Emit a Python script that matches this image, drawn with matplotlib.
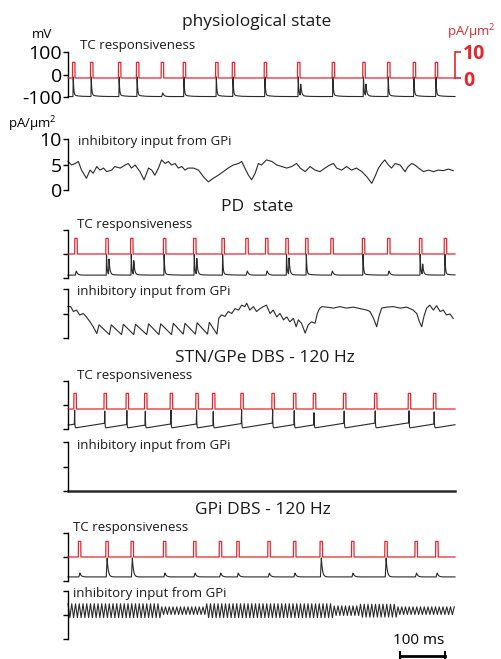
import numpy as np
import matplotlib
matplotlib.use("Agg")
import matplotlib.pyplot as plt
import matplotlib.transforms as mtransforms

plt.rcParams['font.family'] = ['Open Sans', 'DejaVu Sans']
plt.rcParams['mathtext.fontset'] = 'custom'
plt.rcParams['mathtext.rm'] = 'Open Sans'

# ---------------- data ----------------
titles = ["physiological state", "PD  state", "STN/GPe DBS - 120 Hz", "GPi DBS - 120 Hz"]
T_MAX = 860          # ms of trace shown
scale_bar_ms = 100
dbs_freq_hz = 120

# stimulus pulse onsets (ms) and TC responses (fraction of a full spike)
phys_pulse_t = [10, 50, 112, 152, 207, 256, 328, 365, 436, 510, 587, 655, 710, 767, 816]
phys_resp    = [1, 1, 1, 1, 0.19, 1, 1, 1, 1, 1, 1, 1, 1, 1, 1]
phys_resp2   = [0, 0, 0, 0, 0, 0, 0, 0, 0, 0.6, 0, 0.6, 0, 0, 0]

pd_pulse_t = [15, 84, 139, 212, 279, 342, 395, 439, 484, 528, 584, 654, 710, 781, 836]
pd_resp    = [0.2, 1, 1, 1, 1, 1, 0.2, 0.2, 1, 1, 0.2, 1, 0.2, 1, 1]
pd_resp2   = [0, 0.75, 0.67, 0, 0.78, 0, 0, 0, 0.8, 0, 0, 0, 0, 0.5, 0]

stn_pulse_t = [13, 80, 129, 170, 227, 284, 321, 384, 453, 501, 545, 612, 681, 756, 812]
stn_resp    = [1, 1, 1, 1, 1, 1, 1, 1, 1, 1, 1, 1, 1, 1, 1]
stn_resp2   = [0] * 15

gpidbs_pulse_t = [23, 84, 140, 212, 279, 336, 375, 444, 501, 560, 630, 704, 771, 817]
gpidbs_resp    = [0.2, 1, 1, 0.2, 0.2, 0.2, 0.2, 0.2, 0.2, 1, 0.2, 1, 0.2, 0.2]
gpidbs_resp2   = [0] * 14

stim_amp = 6.0       # pA/um^2
stim_width = 5.5     # ms

# membrane potential levels (mV)
phys_rest, phys_peak = -98, -15
pd_rest, pd_peak = -88, -4
stn_rest_low, stn_rest_high, stn_peak = -96, -75, -17
gpidbs_rest, gpidbs_peak = -83, -4

# inhibitory GPi input (pA/um^2)
phys_gpi_t = [0, 8, 16, 23, 30, 41, 49, 56, 64, 71, 79, 86, 97, 104, 116, 127, 134, 141,
              149, 160, 169, 179, 186, 193, 201, 208, 216, 223, 230, 238, 245, 253, 260,
              267, 279, 290, 301, 312, 323, 334, 345, 356, 367, 379, 386, 393, 401, 408,
              416, 423, 430, 441, 453, 464, 475, 486, 497, 508, 516, 527, 538, 549, 560,
              571, 582, 590, 597, 608, 619, 630, 641, 653, 664, 675, 682, 690, 697, 704,
              712, 719, 727, 738, 749, 756, 764, 771, 779, 790, 801, 812, 823, 834, 845, 856]
phys_gpi_v = [5.6, 4.9, 5.2, 5.6, 3.9, 2.3, 3.9, 3.3, 4.6, 3.9, 4.3, 3.6, 3.9, 4.6, 4.3, 4.9,
              5.2, 4.3, 4.9, 3.6, 2.0, 4.3, 3.9, 2.9, 4.3, 5.9, 5.2, 5.6, 4.9, 5.2, 4.3, 4.6,
              3.9, 4.3, 4.3, 3.9, 2.6, 1.6, 2.3, 2.9, 3.6, 4.3, 4.9, 5.2, 5.6, 4.3, 2.9, 2.0,
              3.3, 5.2, 4.9, 5.9, 5.6, 4.9, 4.6, 4.3, 4.6, 5.2, 4.3, 3.6, 4.6, 3.9, 3.6, 4.3,
              4.9, 5.2, 4.3, 3.9, 4.6, 3.9, 4.3, 3.6, 2.6, 1.3, 2.6, 4.3, 5.2, 5.9, 4.9, 4.3,
              5.2, 4.9, 3.6, 4.6, 5.2, 4.9, 4.3, 3.6, 3.9, 3.6, 3.9, 3.8, 4.1, 3.8]

pd_gpi_t = [0, 6, 12, 19, 26, 34, 40, 49, 56, 64, 69, 92, 96, 119, 123, 146, 150, 175, 179,
            202, 206, 230, 234, 256, 260, 283, 287, 310, 314, 331, 335, 341, 349, 356, 364,
            371, 379, 386, 393, 397, 404, 412, 419, 427, 434, 441, 449, 456, 464, 471, 479,
            486, 493, 501, 507, 512, 519, 527, 534, 541, 549, 554, 559, 564, 575, 590, 604,
            619, 634, 649, 664, 671, 679, 686, 691, 697, 708, 723, 738, 753, 767, 775, 781,
            786, 791, 797, 804, 812, 819, 827, 834, 841, 849, 856]
pd_gpi_v = [6.4, 6.4, 5.4, 5.7, 4.7, 5.0, 4.4, 3.3, 2.3, 0.9, 2.7, 0.7, 2.7, 0.7, 2.8, 0.7,
            2.8, 0.7, 2.9, 0.7, 2.9, 0.7, 3.0, 0.8, 3.0, 0.8, 3.1, 0.8, 3.2, 0.8, 4.0, 4.7,
            4.4, 5.4, 5.0, 6.0, 5.7, 6.7, 6.4, 7.1, 5.7, 6.4, 5.4, 6.0, 6.4, 6.7, 5.0, 5.7,
            4.3, 5.0, 3.7, 4.3, 3.3, 4.0, 2.3, 3.7, 3.0, 1.0, 2.7, 3.3, 3.0, 5.0, 6.0, 6.4,
            6.3, 6.1, 6.4, 6.1, 6.3, 6.0, 5.7, 5.4, 4.0, 2.3, 4.4, 6.1, 6.3, 6.4, 6.1, 6.3,
            5.7, 5.0, 3.3, 2.3, 4.4, 6.1, 6.7, 5.7, 6.6, 5.4, 5.7, 4.7, 4.9, 4.0]

stn_gpi_level = 0.0  # GPi silenced under STN/GPe DBS

gpidbs_osc_center = 5.9
gpidbs_seg_start = [0, 205, 305, 590, 650, 730]
gpidbs_seg_amp = [1.45, 0.8, 1.45, 1.0, 1.35, 0.8]

# ---------------- layout ----------------
W, H = 501, 659
fig = plt.figure(figsize=(W / 100, H / 100), dpi=100)
X0, X1 = 68, 455
RED = '#e5262d'
BLK = '#2a2a2a'


def add_ax(y0, y1):
    ax = fig.add_axes([X0 / W, 1 - y1 / H, (X1 - X0) / W, (y1 - y0) / H])
    ax.set_xlim(0, T_MAX)
    ax.patch.set_visible(False)
    for s in ['top', 'right', 'bottom']:
        ax.spines[s].set_visible(False)
    ax.spines['left'].set_linewidth(1.0)
    ax.set_xticks([])
    ax.tick_params(axis='y', direction='out', length=3.5, width=1.0, pad=1.0, labelsize=14)
    return ax


t = np.arange(0, T_MAX + 0.05, 0.1)


def pulse_train(times):
    out = np.zeros_like(t)
    for tp in times:
        out[(t >= tp) & (t < tp + stim_width)] = stim_amp
    return out


def spike_shape(s, rise, tau):
    y = np.zeros_like(s)
    m1 = (s >= 0) & (s < rise)
    y[m1] = s[m1] / rise
    m2 = s >= rise
    y[m2] = np.exp(-(s[m2] - rise) / tau)
    return y


def tc_trace(times, resp, resp2, rest, peak, rise, tau, tail):
    v = np.full_like(t, float(rest))
    amp = peak - rest
    for tp, r, r2 in zip(times, resp, resp2):
        s = t - tp - 1.0
        if r >= 0.5:
            v += amp * r * spike_shape(s, rise, tau)
            v += amp * tail * spike_shape(s, 1.0, 12.0)
        else:
            v += amp * r * spike_shape(s, 2.5, 3.0)
        if r2 > 0:
            v += amp * r2 * spike_shape(s - 5.0, 1.2, 2.0)
    return v


def tc_panel(y0, y1, zero_px, times, black, label_x, show_labels=False):
    ax = add_ax(y0, y1)
    ax.set_ylim(-100, 100)
    ax.set_yticks([-100, 0, 100])
    if show_labels:
        ax.set_yticklabels(['-100', '0', '100'])
    else:
        ax.set_yticklabels([])
    ax.plot(t, black, color=BLK, lw=0.8, clip_on=False)
    ax2 = ax.twinx()
    ax2.set_xlim(0, T_MAX)
    hi = (zero_px - y0) * 10 / 26
    lo = -(y1 - zero_px) * 10 / 26
    ax2.set_ylim(lo, hi)
    ax2.plot(t, pulse_train(times), color=RED, lw=0.9, clip_on=False)
    for s in ['top', 'left', 'bottom']:
        ax2.spines[s].set_visible(False)
    if show_labels:
        ax2.spines['right'].set_bounds(0, 10)
        ax2.spines['right'].set_color(RED)
        ax2.spines['right'].set_linewidth(1.2)
        ax2.set_yticks([0, 10])
        ax2.set_yticklabels(['0', '10'], fontweight='bold', color=RED, fontsize=14)
        ax2.tick_params(axis='y', colors=RED, direction='out', length=4, width=1.2, pad=2)
    else:
        ax2.spines['right'].set_visible(False)
        ax2.set_yticks([])
    ax2.set_xticks([])
    fig.text(label_x / W, 1 - (y0 - 6) / H, 'TC responsiveness', fontsize=9.5,
             ha='left', va='center', color='#1a1a1a')
    return ax


def gpi_panel(y0, y1, tt, vv, label_x, show_labels=False, lw=0.8):
    ax = add_ax(y0, y1)
    ax.set_ylim(0, 10)
    ax.set_yticks([0, 5, 10])
    if show_labels:
        ax.set_yticklabels(['0', '5', '10'])
    else:
        ax.set_yticklabels([])
    ax.plot(tt, vv, color=BLK, lw=lw, clip_on=False)
    fig.text(label_x / W, 1 - (y0 + 3) / H, 'inhibitory input from GPi', fontsize=9.5,
             ha='left', va='center', color='#1a1a1a')
    return ax


def title(txt, xc, yc):
    fig.text(xc / W, 1 - yc / H, txt, fontsize=12.5, ha='center', va='center', color='#1a1a1a')


# ---- physiological ----
title(titles[0], 257, 22)
phys_black = tc_trace(phys_pulse_t, phys_resp, phys_resp2, phys_rest, phys_peak, 0.6, 1.2, 0.08)
tc_panel(52, 97, 78, phys_pulse_t, phys_black, 80, show_labels=True)
fig.text(42 / W, 1 - 35 / H, 'mV', fontsize=9.5, ha='center', va='center')
fig.text(447 / W, 1 - 32 / H, r'pA/µm$^{2}$', fontsize=9.5, ha='left', va='center', color=RED)
gpi_panel(139, 190, phys_gpi_t, phys_gpi_v, 78, show_labels=True)
fig.text(8 / W, 1 - 124 / H, r'pA/µm$^{2}$', fontsize=9.5, ha='left', va='center')

# ---- PD ----
title(titles[1], 257, 207)
pd_black = tc_trace(pd_pulse_t, pd_resp, pd_resp2, pd_rest, pd_peak, 0.6, 1.2, 0.06)
tc_panel(230, 278, 254, pd_pulse_t, pd_black, 77)
gpi_panel(289, 338, pd_gpi_t, pd_gpi_v, 77)

# ---- STN/GPe DBS ----
title(titles[2], 265, 358)
ramp = (stn_rest_high - stn_rest_low) / 70.0
pulse_arr = np.array(stn_pulse_t) + 1.8
idx_last = np.searchsorted(pulse_arr, t) - 1
since = np.where(idx_last >= 0, t - pulse_arr[np.clip(idx_last, 0, None)], t + 40)
stn_black = np.minimum(stn_rest_low + ramp * since, stn_rest_high)
stn_black = stn_black + tc_trace(stn_pulse_t, stn_resp, stn_resp2, 0, stn_peak - stn_rest_high,
                                 0.8, 0.5, 0.0)
tc_panel(381, 429, 409, stn_pulse_t, stn_black, 77)
gpi_panel(442, 491, [0, T_MAX], [stn_gpi_level, stn_gpi_level], 77, lw=1.8)

# ---- GPi DBS ----
title(titles[3], 263, 510)
gpidbs_black = tc_trace(gpidbs_pulse_t, gpidbs_resp, gpidbs_resp2, gpidbs_rest, gpidbs_peak,
                        2.0, 2.5, 0.0)
tc_panel(533, 581, 557, gpidbs_pulse_t, gpidbs_black, 73)
half = 1000.0 / dbs_freq_hz / 2
osc_t = np.arange(0, T_MAX + half, half)
seg_idx = np.searchsorted(gpidbs_seg_start, osc_t, side='right') - 1
osc_amp = np.array(gpidbs_seg_amp)[seg_idx]
sign = np.where(np.arange(len(osc_t)) % 2 == 0, 1, -1)
osc_v = gpidbs_osc_center + sign * osc_amp
osc_v = osc_v[osc_t <= T_MAX]
osc_t = osc_t[osc_t <= T_MAX]
axg = gpi_panel(591, 639, osc_t, osc_v, 73)

# scale bar
trans = mtransforms.blended_transform_factory(axg.transData, fig.transFigure)
sb0 = T_MAX - 22 - scale_bar_ms
yb = 1 - 656 / H
axg.plot([sb0, sb0 + scale_bar_ms], [yb, yb], color='black', lw=2.0, transform=trans, clip_on=False)
for xs in (sb0, sb0 + scale_bar_ms):
    axg.plot([xs, xs], [yb - 4 / H, yb + 4 / H], color='black', lw=1.5, transform=trans, clip_on=False)
fig.text(419 / W, 1 - 640 / H, '100 ms', fontsize=11, ha='center', va='center')

fig.savefig('out.png', dpi=100)
